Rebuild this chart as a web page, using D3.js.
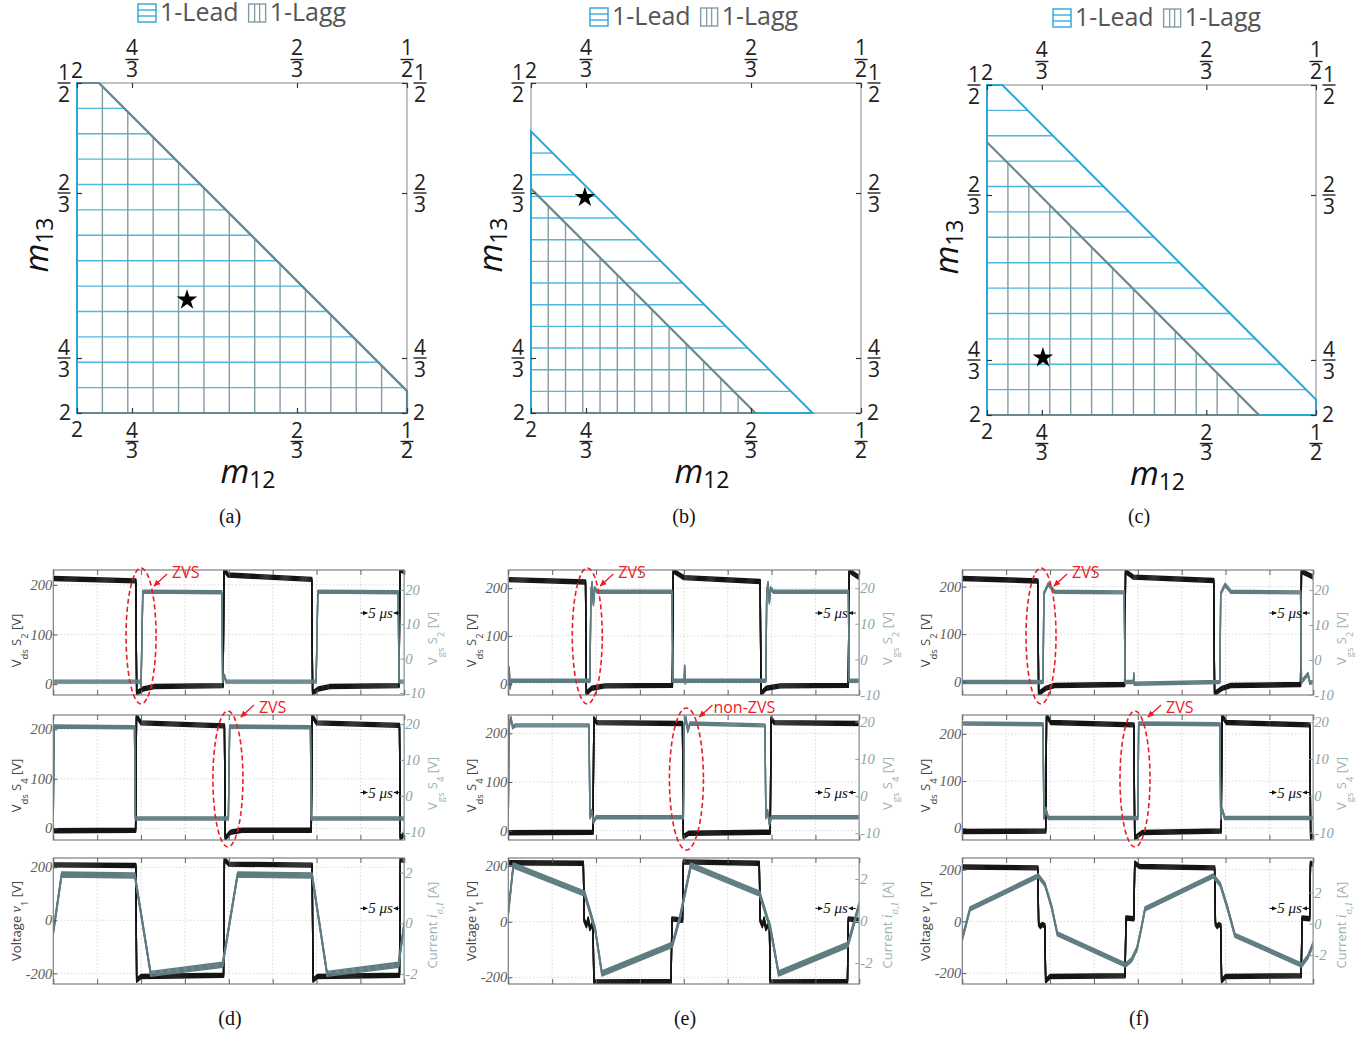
<!DOCTYPE html>
<html><head><meta charset="utf-8">
<script src="https://cdn.jsdelivr.net/npm/d3@7"></script>
<style>body{margin:0;background:#fff} svg{display:block}</style>
</head><body>
<svg id="c" width="1364" height="1037"></svg>
<script>
// ================= DATA =================
// Top maps: axes linear in 1/m, labelled with m
const mapTickValues = [0.5, 0.75, 1.5, 2];
const mapTickLabels = ["2", "4/3", "2/3", "1/2"];
const mapPanels = ["(a)", "(b)", "(c)"];
const leadBoundary = [2.6, 2.28, 2.57];   // 1/m12 + 1/m13 limit of 1-Lead region
const laggBoundary = [2.6, 2.02, 2.24];   // limit of 1-Lagg region
const starU = [1.0, 0.745, 0.755];
const starV = [1.014, 1.48, 0.76];
const legendLabels = ["1-Lead", "1-Lagg"];
const hatchDivisions = 13;

// Bottom waveforms (t in µs)
const wavePanels = ["(d)", "(e)", "(f)"];
const timeTicks = [0, 5, 10, 15, 20, 25, 30, 35, 40];
const leftTicksSw = [0, 100, 200];
const rightTicksSw = [-10, 0, 10, 20];
const leftTicksV = [-200, 0, 200];
const rightTicksI = [-2, 0, 2];

const leftDomD = [[-22, 230], [-23.6, 229], [-240, 235]];
const leftDomE = [[-23, 238], [-19, 237.6], [-224, 229]];
const leftDomF = [[-28, 235], [-25, 240], [-242, 245]];
const rightDomD = [[-10.6, 25.8], [-12.3, 22.5], [-2.39, 2.57]];
const rightDomE = [[-10, 25.1], [-11.8, 21.8], [-3, 3]];
const rightDomF = [[-10, 25.7], [-12, 22], [-3.85, 4.2]];

const d1Vds = [[0,213],[9.4,208],[9.5,-18],[10.2,-10],[11.5,-5],[19.35,-3],[19.45,231],[19.9,220],[29.45,211],[29.55,-18],[30.2,-10],[31.5,-5],[39.4,-3],[39.5,231],[40,226]];
const d1Vgs = [[0,-6.7],[9.9,-6.7],[10.0,-8],[10.2,19.5],[19.2,19.3],[19.3,-6.7],[19.5,-5],[19.7,-6.7],[29.95,-6.7],[30.15,19.5],[39.3,19.3],[39.4,-6.7],[40,-6.7]];
const d2Vds = [[0,-5],[9.38,-4],[9.48,227],[10,213],[19.5,207],[19.6,-20],[20.2,-8],[21.5,-4],[29.4,-4],[29.5,227],[30,213],[39.45,208],[39.55,-20],[40,-12]];
const d2Vgs = [[0,-5],[0.1,19.3],[9.25,19.1],[9.35,-6.3],[19.95,-6.3],[20.1,19.3],[29.3,19.1],[29.4,-6.3],[40,-6.3]];
const d3v1 = [[0,209],[9.4,207],[9.5,-226],[10,-212],[19.4,-207],[19.5,229],[20,212],[29.5,208],[29.6,-226],[30.1,-212],[39.45,-207],[39.55,229],[40,226]];
const d3i = [[0,-0.35],[0.95,1.92],[9.3,1.88],[11.1,-1.99],[19.3,-1.63],[21.0,1.92],[29.5,1.88],[31.2,-1.99],[39.35,-1.63],[40,0]];

const e1Vds = [[0,218],[8.8,213],[8.9,-20],[9.5,-9],[11,-4],[18.7,-3],[18.8,236],[20,222],[28.7,214],[28.8,-20],[29.4,-9],[31,-4],[38.75,-3],[38.85,236],[40,222]];
const e1Vgs = [[0,-6],[0.1,-2.5],[0.2,-8],[0.35,-6],[9.3,-6],[9.42,19],[9.55,21.5],[9.7,15.5],[9.85,20],[10.1,19],[18.65,19],[18.75,-6],[20.05,-6],[20.1,-2],[20.15,-6.5],[20.3,-6],[29.35,-6],[29.45,19],[29.6,21.5],[29.75,16],[29.9,20],[30.2,19],[38.75,19],[38.85,-6],[40,-6]];
const e2Vds = [[0,-4],[9.65,-3],[9.75,230],[10.1,222],[19.85,220],[19.95,-12],[20.6,-5],[29.85,-3],[29.95,230],[30.3,222],[40,220]];
const e2Vgs = [[0,-5],[0.08,19],[0.3,21],[0.5,18.5],[0.8,19],[9.2,19],[9.3,-5.7],[9.5,-4],[9.7,-7],[10,-5.7],[19.95,-5.7],[20.05,19],[20.25,21],[20.45,17.5],[20.7,19.5],[29.25,19],[29.35,-5.7],[29.55,-4],[29.75,-7.5],[30,-5.7],[40,-5.7]];
const e3v1 = [[0,212],[8.55,210],[8.65,5],[8.9,-15],[9.1,10],[9.3,-25],[9.65,-5],[9.75,-217],[18.55,-215],[18.65,10],[19.85,5],[19.95,215],[28.6,210],[28.7,5],[28.95,-15],[29.15,10],[29.35,-25],[29.75,-5],[29.85,-217],[38.65,-215],[38.75,10],[40,5]];
const e3i = [[0,0.4],[0.57,2.65],[8.7,1.3],[9.9,-0.4],[10.67,-2.5],[18.7,-1.13],[19.6,0.24],[20.8,2.65],[28.65,1.3],[29.9,-0.4],[30.8,-2.5],[38.7,-1.13],[40,0.8]];

const f1Vds = [[0,217],[8.6,212],[8.7,-25],[9.5,-14],[10.5,-8],[18.5,-6],[18.6,232],[19.5,220],[28.65,213],[28.75,-25],[29.6,-14],[30.6,-8],[38.55,-6],[38.65,232],[40,220]];
const f1Vgs = [[0,-6.3],[9.2,-6.3],[9.3,19],[9.8,21.7],[10.5,19.5],[18.45,19.3],[18.55,-6.3],[19.5,-6.3],[19.55,-4],[19.6,-6.8],[29.35,-6.3],[29.45,19],[29.95,21.5],[30.6,19.5],[38.55,19.3],[38.65,-6.3],[39.4,-4],[39.6,-6.5],[40,-6.3]];
const f2Vds = [[0,-7],[9.5,-6],[9.6,238],[10.1,224],[19.55,219],[19.65,-21],[20.5,-9],[29.5,-6],[29.6,238],[30.1,224],[39.6,219],[39.7,-20],[40,-15]];
const f2Vgs = [[0,19.7],[9.2,19.5],[9.3,-6],[9.5,-3.5],[9.8,-6],[20,-6],[20.1,19.7],[29.35,19.5],[29.45,-6],[29.6,-3.5],[29.9,-6],[40,-6]];
const f3v1 = [[0,210],[8.6,207],[8.7,-10],[8.9,-20],[9.1,-12],[9.4,-16],[9.5,-230],[10,-213],[18.55,-210],[18.65,13],[19.55,10],[19.65,225],[20.2,212],[28.75,207],[28.85,-10],[29.05,-20],[29.25,-12],[29.45,-16],[29.55,-230],[30,-213],[38.62,-210],[38.72,13],[39.58,10],[39.68,225],[40,220]];
const f3i = [[0,-0.95],[0.88,0.95],[8.66,3.06],[9.42,2.5],[10.19,1.05],[10.83,-0.65],[18.62,-2.64],[19.3,-2.3],[19.9,-1.6],[20.4,-0.3],[20.82,0.95],[28.6,3.06],[29.4,2.5],[30.2,1.05],[31.07,-0.74],[38.67,-2.64],[39.4,-2.1],[40,-1.27]];

const annotCol = [0, 0, 1, 1, 2, 2];
const annotRow = [0, 1, 0, 1, 0, 1];
const annotT = [10.0, 19.9, 9.0, 20.3, 8.97, 19.68];
const annotText = ["ZVS", "ZVS", "ZVS", "non-ZVS", "ZVS", "ZVS"];

// ================= LAYOUT / STYLE =================
const mapLayout = [
  {x0: 77, x1: 407, y0: 83, y1: 413},
  {x0: 531, x1: 861, y0: 83, y1: 413},
  {x0: 987, x1: 1316, y0: 85, y1: 415}];
const legendX = [138, 590, 1053];
const legendBase = [21, 25, 26];
const BLUE = "#2ba6d6", BLUEH = "#4cb8e0", GRAYL = "#6a898f", GRAYH = "#839ca1";
const colLeft = [53.3, 508.3, 962.3], colWidth = 351;
const rowTop = [570, 715, 858], rowHeight = [125, 125, 126];
const leftDoms = [leftDomD, leftDomE, leftDomF];
const rightDoms = [rightDomD, rightDomE, rightDomF];
const waveSeries = [
  [[d1Vds, d1Vgs], [d2Vds, d2Vgs], [d3v1, d3i]],
  [[e1Vds, e1Vgs], [e2Vds, e2Vgs], [e3v1, e3i]],
  [[f1Vds, f1Vgs], [f2Vds, f2Vgs], [f3v1, f3i]]];
const grayBand = [[4, 4, 6], [4, 4, 6], [4, 4, 5]];
const blackBand = [5, 5, 5];
const scaleBarFrac = [0.344, 0.62, 0.4];
const TRACE_BLACK = "#151515", TRACE_GRAY = "#5f7c81";
const RED = "#ee1c25";

const svg = d3.select("#c");
const defs = svg.append("defs");
defs.append("marker").attr("id", "redHead").attr("viewBox", "0 0 8 8").attr("refX", 7).attr("refY", 4)
  .attr("markerWidth", 7).attr("markerHeight", 7).attr("orient", "auto").attr("markerUnits", "userSpaceOnUse")
  .append("path").attr("d", "M0,0.5 L8,4 L0,7.5 z").attr("fill", RED);
defs.append("marker").attr("id", "blackHead").attr("viewBox", "0 0 8 8").attr("refX", 7).attr("refY", 4)
  .attr("markerWidth", 5).attr("markerHeight", 5).attr("orient", "auto").attr("markerUnits", "userSpaceOnUse")
  .append("path").attr("d", "M0,0.5 L8,4 L0,7.5 z").attr("fill", "#111");

// ================= TOP MAPS =================
function mapLabel(g, lab, px, py, side) {
  const parts = lab.split("/");
  const t = g.append("g").attr("font-family", "Open Sans").attr("font-size", 21).attr("fill", "#222");
  if (parts.length === 1) {
    let x = px, y = py, anchor = "middle";
    if (side === "bottom") y = py + 24;
    if (side === "top") y = py - 5;
    if (side === "left") { x = px - 6; y = py + 7; anchor = "end"; }
    if (side === "right") { x = px + 6; y = py + 7; anchor = "start"; }
    t.append("text").attr("x", x).attr("y", y).attr("text-anchor", anchor).text(lab);
  } else {
    let cx = px, yn, yb, yd;
    if (side === "bottom") { yn = py + 25; yb = py + 28.5; yd = py + 45; }
    if (side === "top") { yn = py - 28; yb = py - 23.5; yd = py - 6; }
    if (side === "left") { cx = px - 13; yn = py - 3; yb = py; yd = py + 19; }
    if (side === "right") { cx = px + 13; yn = py - 3; yb = py; yd = py + 19; }
    const tx = t.append("text").attr("text-anchor", "middle");
    tx.append("tspan").attr("x", cx).attr("y", yn).text(parts[0]);
    tx.append("tspan").attr("x", cx).attr("y", yd).text(parts[1]);
    t.append("line").attr("x1", cx - 6.5).attr("x2", cx + 6.5).attr("y1", yb).attr("y2", yb)
      .attr("stroke", "#222").attr("stroke-width", 1.4);
  }
}

mapLayout.forEach((L, i) => {
  const x = d3.scaleLinear().domain([0.5, 2]).range([L.x0, L.x1]);
  const y = d3.scaleLinear().domain([0.5, 2]).range([L.y1, L.y0]);
  const g = svg.append("g");

  // box
  g.append("rect").attr("x", L.x0).attr("y", L.y0).attr("width", L.x1 - L.x0).attr("height", L.y1 - L.y0)
    .attr("fill", "none").attr("stroke", "#a0a0a0").attr("stroke-width", 1.3);

  const poly = s => s >= 2.5
    ? [[0.5, 0.5], [0.5, 2], [s - 2, 2], [2, s - 2], [2, 0.5]]
    : [[0.5, 0.5], [0.5, s - 0.5], [s - 0.5, 0.5]];

  // 1-Lead horizontal hatch
  const sL = leadBoundary[i];
  const topV = Math.min(2, sL - 0.5);
  const hLines = d3.range(1, hatchDivisions).map(k => 0.5 + k * (topV - 0.5) / hatchDivisions);
  g.selectAll(".hl").data(hLines).join("line")
    .attr("x1", x(0.5)).attr("x2", v => x(Math.min(2, sL - v)))
    .attr("y1", v => y(v)).attr("y2", v => y(v))
    .attr("stroke", BLUEH).attr("stroke-width", 1.4);

  // 1-Lagg vertical hatch
  const sG = laggBoundary[i];
  const rightU = Math.min(2, sG - 0.5);
  const vLines = d3.range(1, hatchDivisions).map(k => 0.5 + k * (rightU - 0.5) / hatchDivisions);
  g.selectAll(".vl").data(vLines).join("line")
    .attr("x1", u => x(u)).attr("x2", u => x(u))
    .attr("y1", y(0.5)).attr("y2", u => y(Math.min(2, sG - u)))
    .attr("stroke", GRAYH).attr("stroke-width", 1.4);

  const lineGen = d3.line().x(d => x(d[0])).y(d => y(d[1]));
  g.append("path").attr("d", lineGen(poly(sL)) + "Z").attr("fill", "none").attr("stroke", BLUE).attr("stroke-width", 2);
  g.append("path").attr("d", lineGen(poly(sG).slice(1)) + "").attr("fill", "none").attr("stroke", GRAYL).attr("stroke-width", 2.2);
  g.append("line").attr("x1", x(0.5)).attr("x2", x(Math.min(2, sG - 0.5))).attr("y1", y(0.5)).attr("y2", y(0.5))
    .attr("stroke", GRAYL).attr("stroke-width", 2.2);

  // axes ticks (inward)
  const axB = d3.axisBottom(x).tickValues(mapTickValues).tickSizeInner(-5).tickSizeOuter(0).tickFormat("");
  const axT = d3.axisTop(x).tickValues(mapTickValues).tickSizeInner(-5).tickSizeOuter(0).tickFormat("");
  const axL = d3.axisLeft(y).tickValues(mapTickValues).tickSizeInner(-5).tickSizeOuter(0).tickFormat("");
  const axR = d3.axisRight(y).tickValues(mapTickValues).tickSizeInner(-5).tickSizeOuter(0).tickFormat("");
  [[axB, `translate(0,${L.y1})`], [axT, `translate(0,${L.y0})`], [axL, `translate(${L.x0},0)`], [axR, `translate(${L.x1},0)`]]
    .forEach(([ax, tr]) => {
      const a = g.append("g").attr("transform", tr).call(ax);
      a.select(".domain").remove();
      a.selectAll("line").attr("stroke", "#333").attr("stroke-width", 1.2);
    });

  mapTickValues.forEach((v, k) => {
    const lab = mapTickLabels[k];
    mapLabel(g, lab, x(v), L.y1, "bottom");
    mapLabel(g, lab, x(v), L.y0, "top");
    mapLabel(g, lab, L.x0, y(v), "left");
    mapLabel(g, lab, L.x1, y(v), "right");
  });

  // star
  g.append("path").attr("d", d3.symbol().type(d3.symbolStar).size(130)())
    .attr("transform", `translate(${x(starU[i])},${y(starV[i])})`).attr("fill", "#000");

  // axis labels
  const cx = (L.x0 + L.x1) / 2;
  const xl = g.append("text").attr("x", cx + 6).attr("y", L.y1 + 70).attr("text-anchor", "middle")
    .attr("font-family", "Open Sans").attr("fill", "#111");
  xl.append("tspan").attr("font-size", 33).attr("font-style", "italic").text("m");
  xl.append("tspan").attr("font-size", 23).attr("dy", 5).text("12");
  const yl = g.append("text").attr("transform", `translate(${L.x0 - 29},${(L.y0 + L.y1) / 2 - 3}) rotate(-90)`)
    .attr("text-anchor", "middle").attr("font-family", "Open Sans").attr("fill", "#111");
  yl.append("tspan").attr("font-size", 33).attr("font-style", "italic").text("m");
  yl.append("tspan").attr("font-size", 23).attr("dy", 5).text("13");

  // legend
  const lg = g.append("g").attr("font-family", "Open Sans").attr("font-size", 25).attr("fill", "#555");
  const lx = legendX[i], lb = legendBase[i];
  lg.append("rect").attr("x", lx).attr("y", lb - 17).attr("width", 18).attr("height", 18)
    .attr("fill", "none").attr("stroke", BLUE).attr("stroke-width", 1.4);
  [lb - 11, lb - 5].forEach(yy => lg.append("line").attr("x1", lx).attr("x2", lx + 18).attr("y1", yy).attr("y2", yy)
    .attr("stroke", BLUE).attr("stroke-width", 1.3));
  const t1 = lg.append("text").attr("x", lx + 22).attr("y", lb).text(legendLabels[0]);
  const w1 = t1.node().getComputedTextLength();
  const lx2 = lx + 22 + w1 + 10;
  lg.append("rect").attr("x", lx2).attr("y", lb - 17).attr("width", 17).attr("height", 18)
    .attr("fill", "none").attr("stroke", GRAYH).attr("stroke-width", 1.4);
  [lx2 + 6, lx2 + 11].forEach(xx => lg.append("line").attr("x1", xx).attr("x2", xx).attr("y1", lb - 17).attr("y2", lb + 1)
    .attr("stroke", GRAYH).attr("stroke-width", 1.3));
  lg.append("text").attr("x", lx2 + 21).attr("y", lb).text(legendLabels[1]);

  // caption
  svg.append("text").attr("x", i === 2 ? 1139 : cx - 12).attr("y", 523).attr("text-anchor", "middle")
    .attr("font-family", "Liberation Serif").attr("font-size", 20).attr("fill", "#111").text(mapPanels[i]);
});

// ================= WAVEFORMS =================
function rich(sel, parts, size) {
  parts.forEach(p => {
    const ts = sel.append("tspan").text(p.t);
    if (p.sub) ts.attr("baseline-shift", "sub").attr("font-size", size * 0.72);
    if (p.it) ts.attr("font-style", "italic").attr("font-family", "Liberation Serif").attr("font-size", p.sub ? size * 0.78 : size * 1.1);
  });
}
const leftLabelParts = [
  [{t: "V"}, {t: "ds", sub: true}, {t: " S"}, {t: "2", sub: true}, {t: " [V]"}],
  [{t: "V"}, {t: "ds", sub: true}, {t: " S"}, {t: "4", sub: true}, {t: " [V]"}],
  [{t: "Voltage "}, {t: "v", it: true}, {t: "1", sub: true}, {t: " [V]"}]];
const rightLabelParts = [
  [{t: "V"}, {t: "gs", sub: true}, {t: " S"}, {t: "2", sub: true}, {t: " [V]"}],
  [{t: "V"}, {t: "gs", sub: true}, {t: " S"}, {t: "4", sub: true}, {t: " [V]"}],
  [{t: "Current "}, {t: "i", it: true}, {t: "σ,1", sub: true, it: true}, {t: " [A]"}]];

const xScales = [];
function drawTrace(g, data, tx, ys, color, band) {
  const line = d3.line().x(d => tx(d[0])).y(d => ys(d[1]));
  const dstr = line(data);
  for (let k = 0; k < band; k++) {
    const dy = k - (band - 1) / 2;
    g.append("path").attr("d", dstr).attr("transform", `translate(0,${dy})`)
      .attr("fill", "none").attr("stroke", color).attr("stroke-width", 1.4).attr("stroke-linejoin", "round");
  }
}

for (let ci = 0; ci < 3; ci++) {
  const x0 = colLeft[ci], w = colWidth;
  const tx = d3.scaleLinear().domain([0, 40]).range([x0, x0 + w]);
  xScales.push(tx);
  for (let ri = 0; ri < 3; ri++) {
    const y0 = rowTop[ri], h = rowHeight[ri];
    const yl = d3.scaleLinear().domain(leftDoms[ci][ri]).range([y0 + h, y0]);
    const yr = d3.scaleLinear().domain(rightDoms[ci][ri]).range([y0 + h, y0]);
    const lt = ri < 2 ? leftTicksSw : leftTicksV;
    const rt = ri < 2 ? rightTicksSw : rightTicksI;
    const g = svg.append("g");
    const id = `clip${ci}${ri}`;
    defs.append("clipPath").attr("id", id).append("rect").attr("x", x0).attr("y", y0).attr("width", w).attr("height", h);

    // grid
    g.selectAll(".vg").data(timeTicks.slice(1, -1)).join("line")
      .attr("x1", d => tx(d)).attr("x2", d => tx(d)).attr("y1", y0).attr("y2", y0 + h)
      .attr("stroke", "#cfcfcf").attr("stroke-width", 0.8).attr("stroke-dasharray", "1.5,2");
    g.selectAll(".hg").data(lt).join("line")
      .attr("x1", x0).attr("x2", x0 + w).attr("y1", d => yl(d)).attr("y2", d => yl(d))
      .attr("stroke", "#cfcfcf").attr("stroke-width", 0.8).attr("stroke-dasharray", "1.5,2");

    const tg = g.append("g").attr("clip-path", `url(#${id})`);
    const [sB, sG] = waveSeries[ci][ri];
    drawTrace(tg, sB, tx, yl, TRACE_BLACK, blackBand[ri]);
    drawTrace(tg, sG, tx, yr, TRACE_GRAY, grayBand[ci][ri]);

    // frame
    g.append("rect").attr("x", x0).attr("y", y0).attr("width", w).attr("height", h)
      .attr("fill", "none").attr("stroke", "#7d7d7d").attr("stroke-width", 1.2);
    g.append("line").attr("x1", x0 + w).attr("x2", x0 + w).attr("y1", y0).attr("y2", y0 + h)
      .attr("stroke", "#9cb0b4").attr("stroke-width", 1.4);

    // axes
    const axB = d3.axisBottom(tx).tickValues(timeTicks).tickSizeInner(-5).tickSizeOuter(0).tickFormat("");
    const axT = d3.axisTop(tx).tickValues(timeTicks).tickSizeInner(-5).tickSizeOuter(0).tickFormat("");
    [[axB, `translate(0,${y0 + h})`], [axT, `translate(0,${y0})`]].forEach(([ax, tr]) => {
      const a = g.append("g").attr("transform", tr).call(ax);
      a.select(".domain").remove();
      a.selectAll("line").attr("stroke", "#666").attr("stroke-width", 1);
    });
    const axL = d3.axisLeft(yl).tickValues(lt).tickSizeInner(-4).tickSizeOuter(0).tickPadding(1).tickFormat(d => String(d));
    const aL = g.append("g").attr("transform", `translate(${x0},0)`).call(axL);
    aL.select(".domain").remove();
    aL.selectAll("line").attr("stroke", "#555");
    aL.selectAll("text").attr("font-family", "Liberation Serif").attr("font-style", "italic").attr("font-size", 14.5).attr("fill", "#5a5a5a");
    const axR = d3.axisRight(yr).tickValues(rt).tickSizeInner(-4).tickSizeOuter(0).tickPadding(1).tickFormat(d => String(d));
    const aR = g.append("g").attr("transform", `translate(${x0 + w},0)`).call(axR);
    aR.select(".domain").remove();
    aR.selectAll("line").attr("stroke", "#8da3a8");
    aR.selectAll("text").attr("font-family", "Liberation Serif").attr("font-style", "italic").attr("font-size", 14.5).attr("fill", "#8da3a8");

    // axis titles
    const cy = y0 + h / 2;
    const lt1 = g.append("text").attr("transform", `translate(${x0 - 32},${cy + (ri < 2 ? 8 : 0)}) rotate(-90)`)
      .attr("text-anchor", "middle").attr("font-family", "Open Sans").attr("font-size", 13).attr("fill", "#444");
    rich(lt1, leftLabelParts[ri], 13);
    const rt1 = g.append("text").attr("transform", `translate(${x0 + w + 33},${cy + (ri < 2 ? 6 : 4)}) rotate(-90)`)
      .attr("text-anchor", "middle").attr("font-family", "Open Sans").attr("font-size", 13).attr("fill", "#9db1b5");
    rich(rt1, rightLabelParts[ri], 13);

    // 5 µs scale marker
    const sy = y0 + h * scaleBarFrac[ri];
    const sx0 = tx(35), sx1 = tx(39.6), scx = (sx0 + sx1) / 2;
    const st = g.append("text").attr("x", scx).attr("y", sy + 5).attr("text-anchor", "middle")
      .attr("font-family", "Liberation Serif").attr("font-style", "italic").attr("font-size", 15).attr("fill", "#111")
      .text("5 μs");
    const tw = st.node().getComputedTextLength();
    g.append("line").attr("x1", sx0).attr("x2", scx - tw / 2 - 1).attr("y1", sy).attr("y2", sy)
      .attr("stroke", "#111").attr("stroke-width", 1).attr("marker-end", "url(#blackHead)");
    g.append("line").attr("x1", sx1).attr("x2", scx + tw / 2 + 1).attr("y1", sy).attr("y2", sy)
      .attr("stroke", "#111").attr("stroke-width", 1).attr("marker-end", "url(#blackHead)");
  }
  svg.append("text").attr("x", [230, 685, 1139][ci]).attr("y", 1025).attr("text-anchor", "middle")
    .attr("font-family", "Liberation Serif").attr("font-size", 20).attr("fill", "#111").text(wavePanels[ci]);
}

// ZVS annotations
annotText.forEach((txt, k) => {
  const ci = annotCol[k], ri = annotRow[k];
  const cx = xScales[ci](annotT[k]);
  const top = rowTop[ri];
  const cy = ri === 0 ? top + 66 : top + 64;
  const big = txt !== "ZVS";
  svg.append("ellipse").attr("cx", cx).attr("cy", cy).attr("rx", big ? 17 : 15).attr("ry", big ? 71 : 68)
    .attr("fill", "none").attr("stroke", RED).attr("stroke-width", 1.6).attr("stroke-dasharray", "5,3");
  const ya = ri === 0 ? top + 4 : top - 10;
  svg.append("line").attr("x1", cx + 26).attr("y1", ya).attr("x2", cx + 13).attr("y2", ya + 12)
    .attr("stroke", RED).attr("stroke-width", 1.3).attr("marker-end", "url(#redHead)");
  svg.append("text").attr("x", cx + (big ? 27 : 31)).attr("y", ri === 0 ? top + 8 : top - 2)
    .attr("font-family", "Open Sans").attr("font-size", 16).attr("fill", RED).text(txt);
});
</script>
</body></html>
